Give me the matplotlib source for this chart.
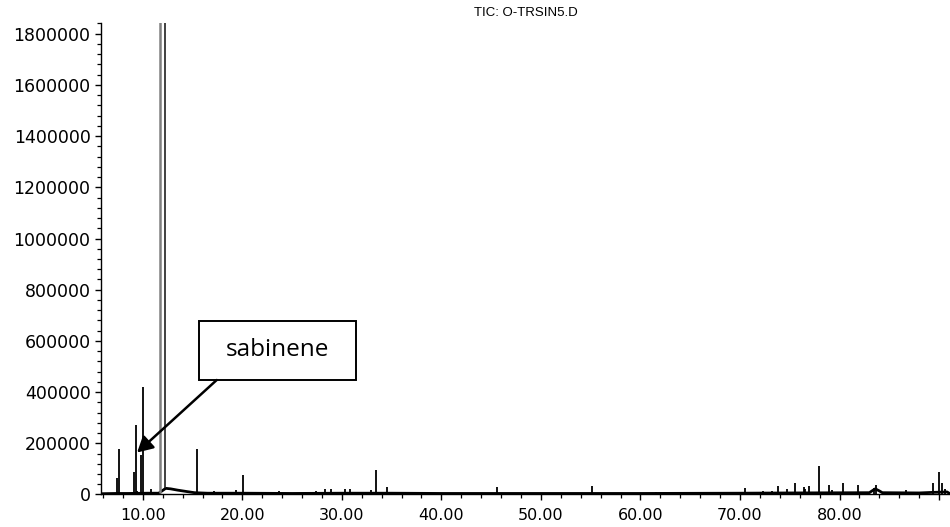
import numpy as np
import matplotlib
matplotlib.use('Agg')
import matplotlib.pyplot as plt
from matplotlib.ticker import MultipleLocator, FuncFormatter
from matplotlib.patches import Rectangle

# ── data (retention time in min, abundance) ──
peak_rt = [7.43, 7.63, 9.10, 9.27, 9.40, 9.83, 10.00, 10.83,
           15.40, 17.17, 19.33, 20.10, 22.67, 23.67, 27.40, 28.33,
           28.93, 30.30, 30.77, 31.83, 32.93, 33.40, 34.53, 37.17,
           45.60, 49.80, 55.13, 61.60, 70.47, 70.77, 72.30, 73.17,
           73.83, 74.77, 75.50, 76.43, 76.57, 76.90, 77.90, 78.90,
           79.23, 80.30, 81.90, 83.50, 83.65, 86.70, 89.37, 90.03,
           90.30, 90.57]
peak_height = [65000, 177000, 86000, 270000, 15000, 154000, 420000, 20000,
               178000, 12000, 17000, 75000, 5000, 12000, 12000, 22000,
               20000, 21000, 23000, 8000, 19000, 95000, 31000, 8000,
               29000, 4000, 33000, 10000, 26000, 9000, 13000, 12000,
               33000, 23000, 46000, 30000, 23000, 35000, 113000, 36000,
               18000, 46000, 36000, 26000, 39000, 16000, 43000, 87000,
               46000, 23000]

# baseline of the TIC trace
base_rt = [5.8, 7.3, 8.5, 10.5, 11.6, 12.3, 12.8, 13.5, 14.5, 15.2, 16.5,
           20.0, 25.0, 30.0, 35.0, 40.0, 50.0, 60.0, 70.0, 75.0, 83.0,
           83.3, 83.6, 84.0, 84.3, 88.0, 89.2, 90.8, 91.1]
base_y = [3000, 4000, 4000, 5000, 5000, 24000, 22000, 17000, 11000, 7000, 5000,
          5000, 4000, 5000, 5000, 4000, 4000, 4000, 5000, 6000, 7000,
          15000, 22000, 14000, 7000, 6000, 8000, 10000, 3000]

# main (off-scale) peak: rising and falling edge
main_rt = [11.76, 12.25]
main_foot = [5000, 24000]
main_top = 3.0e6

title = "TIC: O-TRSIN5.D"
label = "sabinene"

# ─────────────────────────────────────────────────────────────
fig = plt.figure(figsize=(9.5, 5.27), dpi=100)
ax = fig.add_axes([0.1063, 0.0617, 0.8937, 0.8947])

ax.plot(base_rt, base_y, color='black', lw=2.0, solid_joinstyle='round')
ax.vlines(peak_rt, 0, peak_height, color='black', lw=1.3)
ax.vlines(main_rt[0], main_foot[0], main_top, color='#808080', lw=1.8)
ax.vlines(main_rt[1], main_foot[1], main_top, color='#202020', lw=1.2)

ax.set_xlim(5.8, 91.1)
ax.set_ylim(0, 1842000)

for side in ["top", "right"]:
    ax.spines[side].set_visible(False)
for side in ["left", "bottom"]:
    ax.spines[side].set_linewidth(1.0)

ax.xaxis.set_major_locator(MultipleLocator(10))
ax.xaxis.set_minor_locator(MultipleLocator(2))
ax.yaxis.set_major_locator(MultipleLocator(200000))
ax.yaxis.set_minor_locator(MultipleLocator(40000))
ax.xaxis.set_major_formatter(FuncFormatter(lambda v, p: f"{v:.2f}" if v < 89 else ""))
ax.yaxis.set_major_formatter(FuncFormatter(lambda v, p: f"{int(round(v))}"))

ax.tick_params(axis='both', which='major', length=4.5, width=1.0)
ax.tick_params(axis='both', which='minor', length=3.2, width=0.9)
ax.tick_params(axis='x', which='major', pad=5, labelsize=11.5)
ax.tick_params(axis='y', which='major', pad=3, labelsize=12.5)

ax.text(0.5, 1.0 + 10 / 471.5, title, transform=ax.transAxes, ha='center', va='center',
        fontsize=9.5, family='Liberation Sans')

# annotation box + arrow
ax.add_patch(Rectangle((15.68, 447300), 31.39 - 15.68, 678900 - 447300,
                       facecolor='white', edgecolor='black', lw=1.4, zorder=5))
ax.text((15.68 + 31.39) / 2, 565000, label, ha='center', va='center',
        fontsize=17.5, family='Open Sans', zorder=6)
ax.annotate('', xy=(9.43, 164000), xytext=(17.43, 447300),
            arrowprops=dict(arrowstyle='-|>,head_length=0.55,head_width=0.3',
                            mutation_scale=17, lw=1.8, color='black',
                            shrinkA=0, shrinkB=0), zorder=6)

plt.savefig("out.png", dpi=100)
plt.close()
print("Saved: out.png")
